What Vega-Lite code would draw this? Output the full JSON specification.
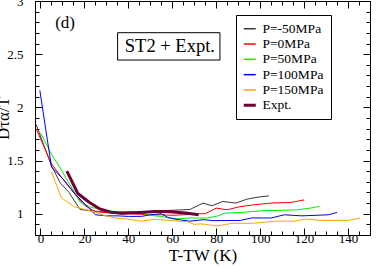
{
  "$schema": "https://vega.github.io/schema/vega-lite/v6.json",
  "width": 335,
  "height": 234,
  "autosize": "none",
  "padding": {"left": 35, "top": 1, "right": 12, "bottom": 34},
  "background": "white",
  "config": {
    "view": {"stroke": "black", "strokeWidth": 1},
    "font": "Liberation Serif",
    "axis": {
      "domainColor": "black", "domainWidth": 1,
      "tickColor": "black", "tickWidth": 1,
      "labelColor": "black", "labelFont": "Liberation Serif", "labelFontSize": 13,
      "titleColor": "black", "titleFont": "Liberation Serif", "titleFontSize": 17, "titleFontWeight": "normal",
      "grid": false
    },
    "legend": {
      "orient": "none", "legendX": 201, "legendY": 14,
      "strokeColor": "black", "fillColor": "white", "padding": 7,
      "labelFont": "Liberation Serif", "labelFontSize": 13.5, "labelColor": "black",
      "symbolType": "stroke", "symbolSize": 144, "labelOffset": 6, "rowPadding": 0.3, "title": null
    }
  },
  "datasets": {
    "curves": [
      {"s": "P=-50MPa", "x": -2, "y": 1.84},
      {"s": "P=-50MPa", "x": 5, "y": 1.45},
      {"s": "P=-50MPa", "x": 9, "y": 1.29},
      {"s": "P=-50MPa", "x": 13, "y": 1.2},
      {"s": "P=-50MPa", "x": 18, "y": 1.04},
      {"s": "P=-50MPa", "x": 22, "y": 1.03},
      {"s": "P=-50MPa", "x": 27, "y": 1.02},
      {"s": "P=-50MPa", "x": 32, "y": 1.01},
      {"s": "P=-50MPa", "x": 37, "y": 1.0},
      {"s": "P=-50MPa", "x": 42, "y": 1.005},
      {"s": "P=-50MPa", "x": 47, "y": 1.01},
      {"s": "P=-50MPa", "x": 52, "y": 1.02},
      {"s": "P=-50MPa", "x": 57, "y": 1.03},
      {"s": "P=-50MPa", "x": 63, "y": 1.035},
      {"s": "P=-50MPa", "x": 68, "y": 1.04},
      {"s": "P=-50MPa", "x": 74, "y": 1.1},
      {"s": "P=-50MPa", "x": 78, "y": 1.075},
      {"s": "P=-50MPa", "x": 83, "y": 1.115},
      {"s": "P=-50MPa", "x": 89, "y": 1.1},
      {"s": "P=-50MPa", "x": 94, "y": 1.137},
      {"s": "P=-50MPa", "x": 99, "y": 1.156},
      {"s": "P=-50MPa", "x": 104, "y": 1.168},
      {"s": "P=0MPa", "x": -2, "y": 1.8},
      {"s": "P=0MPa", "x": 5, "y": 1.47},
      {"s": "P=0MPa", "x": 10, "y": 1.33},
      {"s": "P=0MPa", "x": 15, "y": 1.2},
      {"s": "P=0MPa", "x": 20, "y": 1.08},
      {"s": "P=0MPa", "x": 25, "y": 1.02},
      {"s": "P=0MPa", "x": 30, "y": 1.01},
      {"s": "P=0MPa", "x": 35, "y": 1.0},
      {"s": "P=0MPa", "x": 40, "y": 1.0},
      {"s": "P=0MPa", "x": 45, "y": 0.995},
      {"s": "P=0MPa", "x": 50, "y": 0.99},
      {"s": "P=0MPa", "x": 55, "y": 0.99},
      {"s": "P=0MPa", "x": 60, "y": 0.985},
      {"s": "P=0MPa", "x": 65, "y": 0.99},
      {"s": "P=0MPa", "x": 71, "y": 1.0},
      {"s": "P=0MPa", "x": 75, "y": 1.0},
      {"s": "P=0MPa", "x": 80, "y": 1.053},
      {"s": "P=0MPa", "x": 85, "y": 1.037},
      {"s": "P=0MPa", "x": 90, "y": 1.063},
      {"s": "P=0MPa", "x": 97, "y": 1.084},
      {"s": "P=0MPa", "x": 105, "y": 1.1},
      {"s": "P=0MPa", "x": 114, "y": 1.106},
      {"s": "P=0MPa", "x": 120, "y": 1.13},
      {"s": "P=50MPa", "x": 0, "y": 1.76},
      {"s": "P=50MPa", "x": 5, "y": 1.56},
      {"s": "P=50MPa", "x": 9, "y": 1.43},
      {"s": "P=50MPa", "x": 18, "y": 1.11},
      {"s": "P=50MPa", "x": 23, "y": 1.06},
      {"s": "P=50MPa", "x": 28, "y": 1.04},
      {"s": "P=50MPa", "x": 34, "y": 1.02},
      {"s": "P=50MPa", "x": 42, "y": 1.02},
      {"s": "P=50MPa", "x": 47, "y": 1.0},
      {"s": "P=50MPa", "x": 52, "y": 0.98},
      {"s": "P=50MPa", "x": 55, "y": 0.975},
      {"s": "P=50MPa", "x": 61, "y": 0.95},
      {"s": "P=50MPa", "x": 68, "y": 0.96},
      {"s": "P=50MPa", "x": 76, "y": 0.96},
      {"s": "P=50MPa", "x": 80, "y": 0.975},
      {"s": "P=50MPa", "x": 84, "y": 1.006},
      {"s": "P=50MPa", "x": 91, "y": 1.012},
      {"s": "P=50MPa", "x": 101, "y": 1.028},
      {"s": "P=50MPa", "x": 111, "y": 1.033},
      {"s": "P=50MPa", "x": 117, "y": 1.037},
      {"s": "P=50MPa", "x": 123, "y": 1.053},
      {"s": "P=50MPa", "x": 127, "y": 1.07},
      {"s": "P=100MPa", "x": -0.3, "y": 2.16},
      {"s": "P=100MPa", "x": 5, "y": 1.44},
      {"s": "P=100MPa", "x": 11, "y": 1.31},
      {"s": "P=100MPa", "x": 16, "y": 1.18},
      {"s": "P=100MPa", "x": 25, "y": 0.99},
      {"s": "P=100MPa", "x": 30, "y": 0.98},
      {"s": "P=100MPa", "x": 35, "y": 0.98},
      {"s": "P=100MPa", "x": 40, "y": 0.975},
      {"s": "P=100MPa", "x": 46, "y": 0.975},
      {"s": "P=100MPa", "x": 50, "y": 0.99},
      {"s": "P=100MPa", "x": 55, "y": 1.0},
      {"s": "P=100MPa", "x": 58, "y": 0.965},
      {"s": "P=100MPa", "x": 64, "y": 0.94},
      {"s": "P=100MPa", "x": 68, "y": 0.93},
      {"s": "P=100MPa", "x": 74, "y": 0.944},
      {"s": "P=100MPa", "x": 79, "y": 0.935},
      {"s": "P=100MPa", "x": 91, "y": 0.937},
      {"s": "P=100MPa", "x": 96, "y": 0.96},
      {"s": "P=100MPa", "x": 105, "y": 0.96},
      {"s": "P=100MPa", "x": 111, "y": 0.99},
      {"s": "P=100MPa", "x": 119, "y": 0.98},
      {"s": "P=100MPa", "x": 131, "y": 0.99},
      {"s": "P=100MPa", "x": 135, "y": 1.012},
      {"s": "P=150MPa", "x": 5, "y": 1.395},
      {"s": "P=150MPa", "x": 9.5, "y": 1.15},
      {"s": "P=150MPa", "x": 15.5, "y": 1.065},
      {"s": "P=150MPa", "x": 24, "y": 1.02},
      {"s": "P=150MPa", "x": 28, "y": 0.99},
      {"s": "P=150MPa", "x": 34, "y": 0.96},
      {"s": "P=150MPa", "x": 39.5, "y": 0.95},
      {"s": "P=150MPa", "x": 45.6, "y": 0.93},
      {"s": "P=150MPa", "x": 51.7, "y": 0.947},
      {"s": "P=150MPa", "x": 60.8, "y": 0.935},
      {"s": "P=150MPa", "x": 67, "y": 0.925},
      {"s": "P=150MPa", "x": 70, "y": 0.9},
      {"s": "P=150MPa", "x": 73, "y": 0.905},
      {"s": "P=150MPa", "x": 80.6, "y": 0.885},
      {"s": "P=150MPa", "x": 87, "y": 0.91},
      {"s": "P=150MPa", "x": 97, "y": 0.91},
      {"s": "P=150MPa", "x": 106.4, "y": 0.93},
      {"s": "P=150MPa", "x": 115.5, "y": 0.93},
      {"s": "P=150MPa", "x": 120.8, "y": 0.95},
      {"s": "P=150MPa", "x": 127.7, "y": 0.937},
      {"s": "P=150MPa", "x": 139.8, "y": 0.937},
      {"s": "P=150MPa", "x": 145.5, "y": 0.96},
      {"s": "Expt.", "x": 12, "y": 1.4},
      {"s": "Expt.", "x": 17, "y": 1.19},
      {"s": "Expt.", "x": 22, "y": 1.11},
      {"s": "Expt.", "x": 27, "y": 1.045},
      {"s": "Expt.", "x": 32, "y": 1.015},
      {"s": "Expt.", "x": 37, "y": 1.005},
      {"s": "Expt.", "x": 42, "y": 1.01},
      {"s": "Expt.", "x": 47, "y": 1.015},
      {"s": "Expt.", "x": 52, "y": 1.02},
      {"s": "Expt.", "x": 57, "y": 1.02},
      {"s": "Expt.", "x": 62, "y": 1.015},
      {"s": "Expt.", "x": 67, "y": 1.005},
      {"s": "Expt.", "x": 72, "y": 0.99}
    ],
    "labels": [
      {"x": 11.2, "y": 2.743, "t": "(d)", "k": "d"},
      {"x": 58.9, "y": 2.523, "t": "ST2 + Expt.", "k": "box"}
    ],
    "box": [
      {"x1": 35.1, "x2": 81.7, "y1": 2.702, "y2": 2.445}
    ]
  },
  "resolve": {"axis": {"x": "independent", "y": "independent"}},
  "layer": [
    {
      "data": {"name": "curves"},
      "mark": {"type": "line", "clip": true},
      "encoding": {
        "x": {
          "field": "x", "type": "quantitative",
          "scale": {"domain": [-2.5, 150], "nice": false, "zero": false},
          "axis": {
            "orient": "bottom", "title": "T-TW (K)", "titlePadding": 2,
            "values": [0,5,10,15,20,25,30,35,40,45,50,55,60,65,70,75,80,85,90,95,100,105,110,115,120,125,130,135,140,145],
            "labelExpr": "datum.value % 20 === 0 ? datum.label : ''",
            "tickSize": {"condition": {"test": "datum.value % 20 === 0", "value": -7}, "value": -4},
            "labelPadding": 4, "labelFlush": false
          }
        },
        "y": {
          "field": "y", "type": "quantitative",
          "scale": {"domain": [0.8, 3], "nice": false, "zero": false},
          "axis": {
            "orient": "left", "title": "Dτα/T", "titleX": -23, "titleY": 117, "titleAngle": -90, "titleAlign": "center", "titleBaseline": "bottom",
            "format": "~g",
            "values": [0.8,0.9,1,1.1,1.2,1.3,1.4,1.5,1.6,1.7,1.8,1.9,2,2.1,2.2,2.3,2.4,2.5,2.6,2.7,2.8,2.9,3],
            "labelExpr": "abs(datum.value*2 - round(datum.value*2)) < 0.001 ? datum.label : ''",
            "tickSize": {"condition": {"test": "abs(datum.value*2 - round(datum.value*2)) < 0.001", "value": -7}, "value": -4},
            "labelPadding": 19, "labelFlush": false
          }
        },
        "color": {
          "field": "s", "type": "nominal",
          "scale": {
            "domain": ["P=-50MPa", "P=0MPa", "P=50MPa", "P=100MPa", "P=150MPa", "Expt."],
            "range": ["#3a3a3a", "#ff0000", "#00ee00", "#0000ff", "#ffa500", "#6e0038"]
          },
          "legend": {
            "title": null,
            "encode": {"symbols": {"update": {"strokeWidth": {"signal": "datum.value === 'Expt.' ? 3 : 1.5"}}}}
          }
        },
        "strokeWidth": {"condition": {"test": "datum.s === 'Expt.'", "value": 3}, "value": 1}
      }
    },
    {
      "data": {"name": "curves"},
      "mark": {"type": "line", "opacity": 0},
      "encoding": {
        "x": {
          "field": "x", "type": "quantitative",
          "axis": {
            "orient": "top", "title": null, "labels": false,
            "values": [0,5,10,15,20,25,30,35,40,45,50,55,60,65,70,75,80,85,90,95,100,105,110,115,120,125,130,135,140,145],
            "tickSize": {"condition": {"test": "datum.value % 20 === 0", "value": -7}, "value": -4}
          }
        },
        "y": {
          "field": "y", "type": "quantitative",
          "axis": {
            "orient": "right", "title": null, "labels": false,
            "values": [0.8,0.9,1,1.1,1.2,1.3,1.4,1.5,1.6,1.7,1.8,1.9,2,2.1,2.2,2.3,2.4,2.5,2.6,2.7,2.8,2.9,3],
            "tickSize": {"condition": {"test": "abs(datum.value*2 - round(datum.value*2)) < 0.001", "value": -7}, "value": -4}
          }
        },
        "detail": {"field": "s", "type": "nominal"}
      }
    },
    {
      "data": {"name": "box"},
      "mark": {"type": "rect", "fill": "white", "stroke": "black", "strokeWidth": 1},
      "encoding": {
        "x": {"field": "x1", "type": "quantitative", "axis": null},
        "x2": {"field": "x2"},
        "y": {"field": "y1", "type": "quantitative", "axis": null},
        "y2": {"field": "y2"}
      }
    },
    {
      "data": {"name": "labels"},
      "mark": {"type": "text", "font": "Liberation Serif", "align": "center", "baseline": "alphabetic", "color": "black"},
      "encoding": {
        "x": {"field": "x", "type": "quantitative", "axis": null},
        "y": {"field": "y", "type": "quantitative", "axis": null},
        "text": {"field": "t"},
        "size": {"field": "k", "type": "nominal", "scale": {"domain": ["d", "box"], "range": [17, 18.5]}, "legend": null}
      }
    }
  ]
}
